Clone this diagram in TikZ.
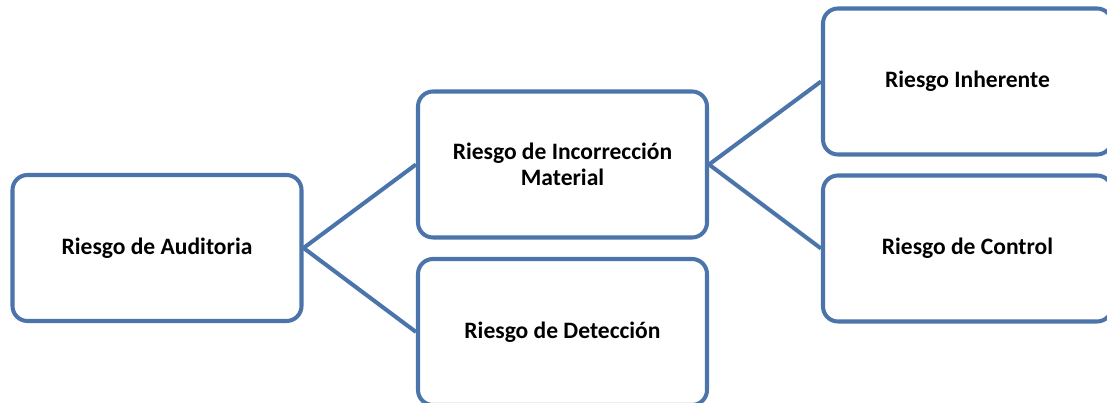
\documentclass[tikz,border=0pt]{standalone}
\usepackage{fontspec}
\setmainfont{Carlito}
\usepackage{tikz}
\usetikzlibrary{positioning}

\definecolor{riskblue}{RGB}{74,116,170}

\begin{document}
\begin{tikzpicture}[
    riskbox/.style={draw=riskblue, line width=2.3pt, rounded corners=0.3cm, fill=white,
        minimum width=5.78cm, minimum height=2.92cm, inner sep=0pt, align=center,
        font=\fontsize{13.4}{14.6}\selectfont\bfseries},
    risklink/.style={draw=riskblue, line width=2.3pt}
]
    \useasboundingbox (0,0) rectangle (22.14,8.06);
    \clip (0,0) rectangle (22.14,8.06);
    % boxes
    \node[riskbox] (auditoria) at (3.14,3.10) {Riesgo de Auditoria};
    \node[riskbox] (incorreccion) at (11.25,4.77) {Riesgo de Incorrección\\Material};
    \node[riskbox] (deteccion) at (11.25,1.42) {Riesgo de Detección};
    \node[riskbox] (inherente) at (19.35,6.43) {Riesgo Inherente};
    \node[riskbox] (control) at (19.35,3.09) {Riesgo de Control};
    % links
    \draw[risklink] (auditoria.east) -- (incorreccion.west);
    \draw[risklink] (auditoria.east) -- (deteccion.west);
    \draw[risklink] (incorreccion.east) -- (inherente.west);
    \draw[risklink] (incorreccion.east) -- (control.west);
\end{tikzpicture}
\end{document}
